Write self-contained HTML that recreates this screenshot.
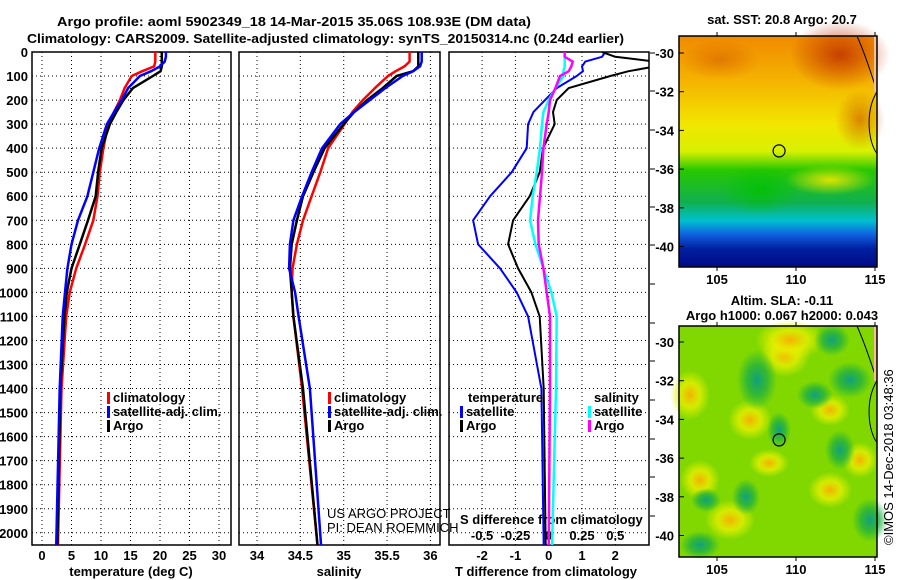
<!DOCTYPE html>
<html><head><meta charset="utf-8"><style>
body{margin:0;background:#fff}
svg{display:block;font-family:"Liberation Sans",sans-serif}
.b{font-weight:bold;font-size:13px}
</style></head><body>
<svg id="c" width="900" height="580" viewBox="0 0 900 580" xmlns="http://www.w3.org/2000/svg">
<defs>
<clipPath id="cp1"><rect x="32" y="52" width="199" height="493"/></clipPath>
<clipPath id="cp2"><rect x="239" y="52" width="201" height="493"/></clipPath>
<clipPath id="cp3"><rect x="449" y="52" width="200" height="493"/></clipPath>
<linearGradient id="sst" x1="0" y1="0" x2="0" y2="1">
<stop offset="0" stop-color="#f08a00"/><stop offset="0.2" stop-color="#f5b400"/><stop offset="0.38" stop-color="#f2e600"/><stop offset="0.5" stop-color="#d8f000"/><stop offset="0.58" stop-color="#28c800"/><stop offset="0.72" stop-color="#10b050"/><stop offset="0.8" stop-color="#00c0d0"/><stop offset="0.86" stop-color="#1060e0"/><stop offset="0.92" stop-color="#0020a0"/><stop offset="1" stop-color="#000a88"/>
</linearGradient>
<radialGradient id="hot"><stop offset="0" stop-color="#c03000" stop-opacity="0.85"/><stop offset="1" stop-color="#c03000" stop-opacity="0"/></radialGradient>
<radialGradient id="yl"><stop offset="0" stop-color="#f0e800"/><stop offset="1" stop-color="#f0e800" stop-opacity="0"/></radialGradient>
<radialGradient id="gr"><stop offset="0" stop-color="#00c000"/><stop offset="1" stop-color="#00c000" stop-opacity="0"/></radialGradient>
<radialGradient id="sy"><stop offset="0" stop-color="#f5b000"/><stop offset="0.5" stop-color="#e8f000" stop-opacity="0.8"/><stop offset="1" stop-color="#e8f000" stop-opacity="0"/></radialGradient>
<radialGradient id="sg"><stop offset="0" stop-color="#10a080"/><stop offset="0.5" stop-color="#20b040" stop-opacity="0.8"/><stop offset="1" stop-color="#20b040" stop-opacity="0"/></radialGradient>
</defs>
<g id="titles">
<text x="57" y="26" class="b" font-size="14.5" textLength="474" lengthAdjust="spacingAndGlyphs">Argo profile: aoml 5902349_18 14-Mar-2015 35.06S 108.93E (DM data)</text>
<text x="27" y="43" class="b" font-size="14.5" textLength="597" lengthAdjust="spacingAndGlyphs">Climatology: CARS2009. Satellite-adjusted climatology: synTS_20150314.nc (0.24d earlier)</text>
</g>
<g id="plots"></g>
<g id="maps"></g>
</svg>
<script>
const depths=[0,20,40,60,80,100,150,200,250,300,400,500,600,700,800,900,1000,1100,1400,2060];
const tempArgo=[20.3,20.3,20.3,20.3,20.1,18.8,15.4,13.8,12.6,11.5,10.1,9.5,9.1,7.8,6.4,5.0,4.2,3.8,3.1,2.6];
const tempClim=[19.2,19.2,19.2,19.0,17.0,15.2,14.0,13.2,12.2,11.2,10.4,9.8,9.4,8.7,7.3,5.8,4.7,4.1,3.3,2.7];
const tempSat=[21.0,21.0,20.8,20.0,18.5,16.6,14.6,13.5,12.2,11.0,9.7,8.7,7.7,6.1,5.0,4.3,3.9,3.5,3.0,2.4];
const salArgo=[35.86,35.86,35.86,35.86,35.80,35.61,35.45,35.27,35.12,35.0,34.78,34.65,34.53,34.46,34.40,34.38,34.40,34.42,34.53,34.70];
const salClim=[35.76,35.76,35.76,35.70,35.60,35.51,35.36,35.22,35.10,35.01,34.82,34.73,34.63,34.53,34.46,34.41,34.40,34.42,34.52,34.70];
const salSat=[35.90,35.90,35.90,35.88,35.80,35.68,35.48,35.30,35.12,34.96,34.75,34.63,34.52,34.42,34.38,34.37,34.44,34.48,34.61,34.74];
const tdiffArgo=[1.6,2.0,3.2,3.2,2.4,1.85,0.6,0.24,0.13,0.18,-0.17,-0.27,-0.57,-1.07,-1.22,-0.92,-0.52,-0.27,-0.15,-0.09];
const tdiffSat=[1.7,1.6,1.1,1.0,1.03,0.84,0.24,-0.11,-0.46,-0.62,-0.66,-1.11,-1.76,-2.27,-2.12,-1.46,-0.96,-0.62,-0.22,-0.15];
const sdiffSat=[0.12,0.12,0.12,0.12,0.11,0.11,0.05,0,-0.04,-0.05,-0.065,-0.09,-0.12,-0.14,-0.10,-0.04,0.02,0.06,0.055,0.025];
const sdiffArgo=[0.12,0.12,0.18,0.17,0.15,0.085,0.05,0.01,0,-0.015,-0.04,-0.05,-0.065,-0.08,-0.075,-0.04,-0.015,0.01,0.01,0];
const depthTicks=[0,100,200,300,400,500,600,700,800,900,1000,1100,1200,1300,1400,1500,1600,1700,1800,1900,2000];
const tempTicks=[0,5,10,15,20,25,30];
const salTicks=[34,34.5,35,35.5,36];
const tdTicks=[-2,-1,0,1,2];
const sdTicks=[-0.5,-0.25,0,0.25,0.5];
const sdTickLabels=["-0.5","-0.25","0","0.25","0.5"];

const NS="http://www.w3.org/2000/svg";
const yD=d=>52+d*0.2404;
const xT=t=>42+t*5.9;
const xS=s=>257+(s-34)*86.7;
const xTD=t=>548.7+t*33.3;
const xSD=s=>548.7+s*133.2;
function mk(tag,attrs,parent){const e=document.createElementNS(NS,tag);for(const k in attrs)e.setAttribute(k,attrs[k]);parent.appendChild(e);return e;}
const P=document.getElementById('plots');

const panels=[{x0:32,x1:231,cp:'cp1',name:'temperature-panel'},{x0:239,x1:440,cp:'cp2',name:'salinity-panel'},{x0:449,x1:649,cp:'cp3',name:'difference-panel'}];
const gridX=[tempTicks.map(xT),salTicks.map(xS),tdTicks.map(xTD)];
panels.forEach((p,i)=>{
  const g=mk('g',{},P);
  
  
  depthTicks.forEach(d=>{mk('line',{x1:p.x0,x2:p.x1,y1:yD(d),y2:yD(d),stroke:'#000','stroke-width':1,'stroke-dasharray':'1,3'},g);});
  gridX[i].forEach(x=>{mk('line',{x1:x,x2:x,y1:52,y2:545,stroke:'#000','stroke-width':1,'stroke-dasharray':'1,3'},g);});
  const r=mk('rect',{x:p.x0,y:52,width:p.x1-p.x0,height:493,fill:'none',stroke:'#000','stroke-width':1.5},g);
  
  
});
const yl=mk('g',{},P);


depthTicks.forEach(d=>{const t=mk('text',{x:28,y:yD(d)+5,'text-anchor':'end','class':'b'},yl);t.textContent=d;});
[53,91,130,169,207,245,284,323,361,400,439,477,516].forEach(y=>mk('line',{x1:650,x2:655,y1:y,y2:y,stroke:'#000'},P));
function xlabels(ticks,fx,labels,name,y){const g=mk('g',{},P);ticks.forEach((v,i)=>{const t=mk('text',{x:fx(v),y:y,'text-anchor':'middle','class':'b'},g);t.textContent=labels?labels[i]:v;});}
xlabels(tempTicks,xT,null,'temperature-tick-labels',560);
xlabels(salTicks,xS,null,'salinity-tick-labels',560);
xlabels(tdTicks,xTD,null,'t-difference-tick-labels',560);
xlabels(sdTicks,xSD,sdTickLabels,'s-difference-tick-labels',540);
function txt(x,y,s,name,extra){const t=mk('text',Object.assign({x:x,y:y,'class':'b'},extra||{}),P);t.textContent=s;return t;}
txt(131,576,'temperature (deg C)','x-axis-title-temperature',{'text-anchor':'middle'});
txt(339,576,'salinity','x-axis-title-salinity',{'text-anchor':'middle'});
txt(546,576,'T difference from climatology','x-axis-title-t-difference',{'text-anchor':'middle'});
txt(460,524,'S difference from climatology','x-axis-title-s-difference');
function series(vals,fx,color,cp,name,w){
  const pts=vals.map((v,i)=>fx(v).toFixed(1)+','+yD(depths[i]).toFixed(1)).join(' ');
  const l=mk('polyline',{points:pts,fill:'none',stroke:color,'stroke-width':w||2.5,'stroke-linejoin':'round','clip-path':'url(#'+cp+')'},P);
  
  
}
series(tempClim,xT,'#ff0000','cp1','temperature-climatology-line');
series(tempArgo,xT,'#000','cp1','temperature-argo-line');
series(tempSat,xT,'#0000ff','cp1','temperature-satellite-line');
series(salClim,xS,'#ff0000','cp2','salinity-climatology-line');
series(salArgo,xS,'#000','cp2','salinity-argo-line');
series(salSat,xS,'#0000ff','cp2','salinity-satellite-line');
series(tdiffSat,xTD,'#0000ff','cp3','t-diff-satellite-line',2);
series(tdiffArgo,xTD,'#000','cp3','t-diff-argo-line',2);
series(sdiffSat,xSD,'#00ffff','cp3','s-diff-satellite-line');
series(sdiffArgo,xSD,'#ff00ff','cp3','s-diff-argo-line');
function leg(x,y,color,label,name){const g=mk('g',{},P);mk('rect',{x:x,y:y-10,width:3,height:12,fill:color},g);const t=mk('text',{x:x+6,y:y,'class':'b'},g);t.textContent=label;}
leg(107,402,'#ff0000','climatology','legend-entry-climatology');
leg(107,416,'#0000ff','satellite-adj. clim.','legend-entry-satellite');
leg(107,430,'#000','Argo','legend-entry-argo');
leg(328,402,'#ff0000','climatology','legend-entry-sal-climatology');
leg(328,416,'#0000ff','satellite-adj. clim.','legend-entry-sal-satellite');
leg(328,430,'#000','Argo','legend-entry-sal-argo');
txt(468,402,'temperature','legend-title-temperature');
txt(594,402,'salinity','legend-title-salinity');
leg(460,416,'#0000ff','satellite','legend-entry-t-satellite');
leg(460,430,'#000','Argo','legend-entry-t-argo');
leg(588,416,'#00ffff','satellite','legend-entry-s-satellite');
leg(588,430,'#ff00ff','Argo','legend-entry-s-argo');
txt(327,518,'US ARGO PROJECT','credit-project',{'font-weight':'normal','class':''}).setAttribute('font-size','13');
txt(327,532,'PI: DEAN ROEMMICH','credit-pi',{'font-weight':'normal','class':''}).setAttribute('font-size','13');

const M=document.getElementById('maps');
const lonTicks=[105,110,115];
const latTicks=[-30,-32,-34,-36,-38,-40];
function map(y0,y1,latY0,name,fill,title1,title2){
  const g=mk('g',{},M);
  
  
  const lx=lon=>717+(lon-105)*15.8;
  const ly=lat=>latY0+(-30-lat)*19.35;
  fill(g,y0,y1);
  mk('path',{d:`M 857 ${y0} C 866 ${y0+20}, 872 ${y0+40}, 877 ${ly(-32)} C 865 ${ly(-33)}, 868 ${ly(-34.6)}, 877 ${ly(-35.2)}`,fill:'none',stroke:'#000','stroke-width':1},g);
  mk('rect',{x:874,y:y0,width:3,height:ly(-32)-y0,fill:'#f8c090'},g);
  mk('circle',{cx:lx(108.93),cy:ly(-35.06),r:6,fill:'none',stroke:'#000','stroke-width':1.2},g);
  mk('rect',{x:679,y:y0,width:198,height:y1-y0,fill:'none',stroke:'#000','stroke-width':1.5},g);
  latTicks.forEach(l=>{mk('line',{x1:679,x2:684,y1:ly(l),y2:ly(l),stroke:'#000'},g);const t=mk('text',{x:674,y:ly(l)+5,'text-anchor':'end','class':'b'},g);t.textContent=l;});
  lonTicks.forEach(l=>{mk('line',{x1:lx(l),x2:lx(l),y1:y0-4,y2:y0,stroke:'#000'},g);mk('line',{x1:lx(l),x2:lx(l),y1:y1,y2:y1+4,stroke:'#000'},g);const t=mk('text',{x:lx(l),y:y1+17,'text-anchor':'middle','class':'b'},g);t.textContent=l;});
  const t1=mk('text',{x:782,y:title2?y0-21:y0-12,'text-anchor':'middle','class':'b'},g);t1.textContent=title1;
  if(title2){const t2=mk('text',{x:782,y:y0-6,'text-anchor':'middle','class':'b'},g);t2.textContent=title2;}
}
map(36,267,53,'sst-map',(g,y0,y1)=>{
  mk('rect',{x:679,y:y0,width:198,height:y1-y0,fill:'url(#sst)'},g);
  mk('ellipse',{cx:840,cy:55,rx:50,ry:35,fill:'url(#hot)'},g);
  mk('ellipse',{cx:860,cy:120,rx:25,ry:30,fill:'url(#hot)',opacity:0.6},g);
  mk('ellipse',{cx:720,cy:60,rx:40,ry:20,fill:'url(#hot)',opacity:0.4},g);
  mk('ellipse',{cx:830,cy:180,rx:45,ry:15,fill:'url(#yl)',opacity:0.9},g);
  mk('ellipse',{cx:760,cy:190,rx:40,ry:25,fill:'url(#gr)',opacity:0.8},g);
},'sat. SST: 20.8 Argo: 20.7');
map(326,557,342,'sla-map',(g,y0,y1)=>{
  mk('rect',{x:679,y:y0,width:198,height:y1-y0,fill:'#80d800'},g);
  [[785,355,25,22],[690,395,20,25],[860,460,18,18],[830,490,22,18],[769,463,20,14],[750,420,22,20],[730,520,25,20],[790,340,35,20],[830,410,20,16],[700,480,20,20]].forEach(a=>mk('ellipse',{cx:a[0],cy:a[1],rx:a[2],ry:a[3],fill:'url(#sy)'},g));
  [[757,380,20,30],[832,340,18,16],[779,430,12,18],[746,497,14,18],[815,395,18,14],[850,380,22,18],[870,520,18,22],[700,545,20,14],[840,450,15,20],[706,500,15,12]].forEach(a=>mk('ellipse',{cx:a[0],cy:a[1],rx:a[2],ry:a[3],fill:'url(#sg)'},g));
},'Altim. SLA: -0.11','Argo h1000: 0.067 h2000: 0.043');
const cr=mk('text',{x:0,y:0,'font-size':'13',transform:'translate(893,545) rotate(-90)'},M);
cr.textContent='\u00a9IMOS 14-Dec-2018 03:48:36';


</script>
</body></html>
